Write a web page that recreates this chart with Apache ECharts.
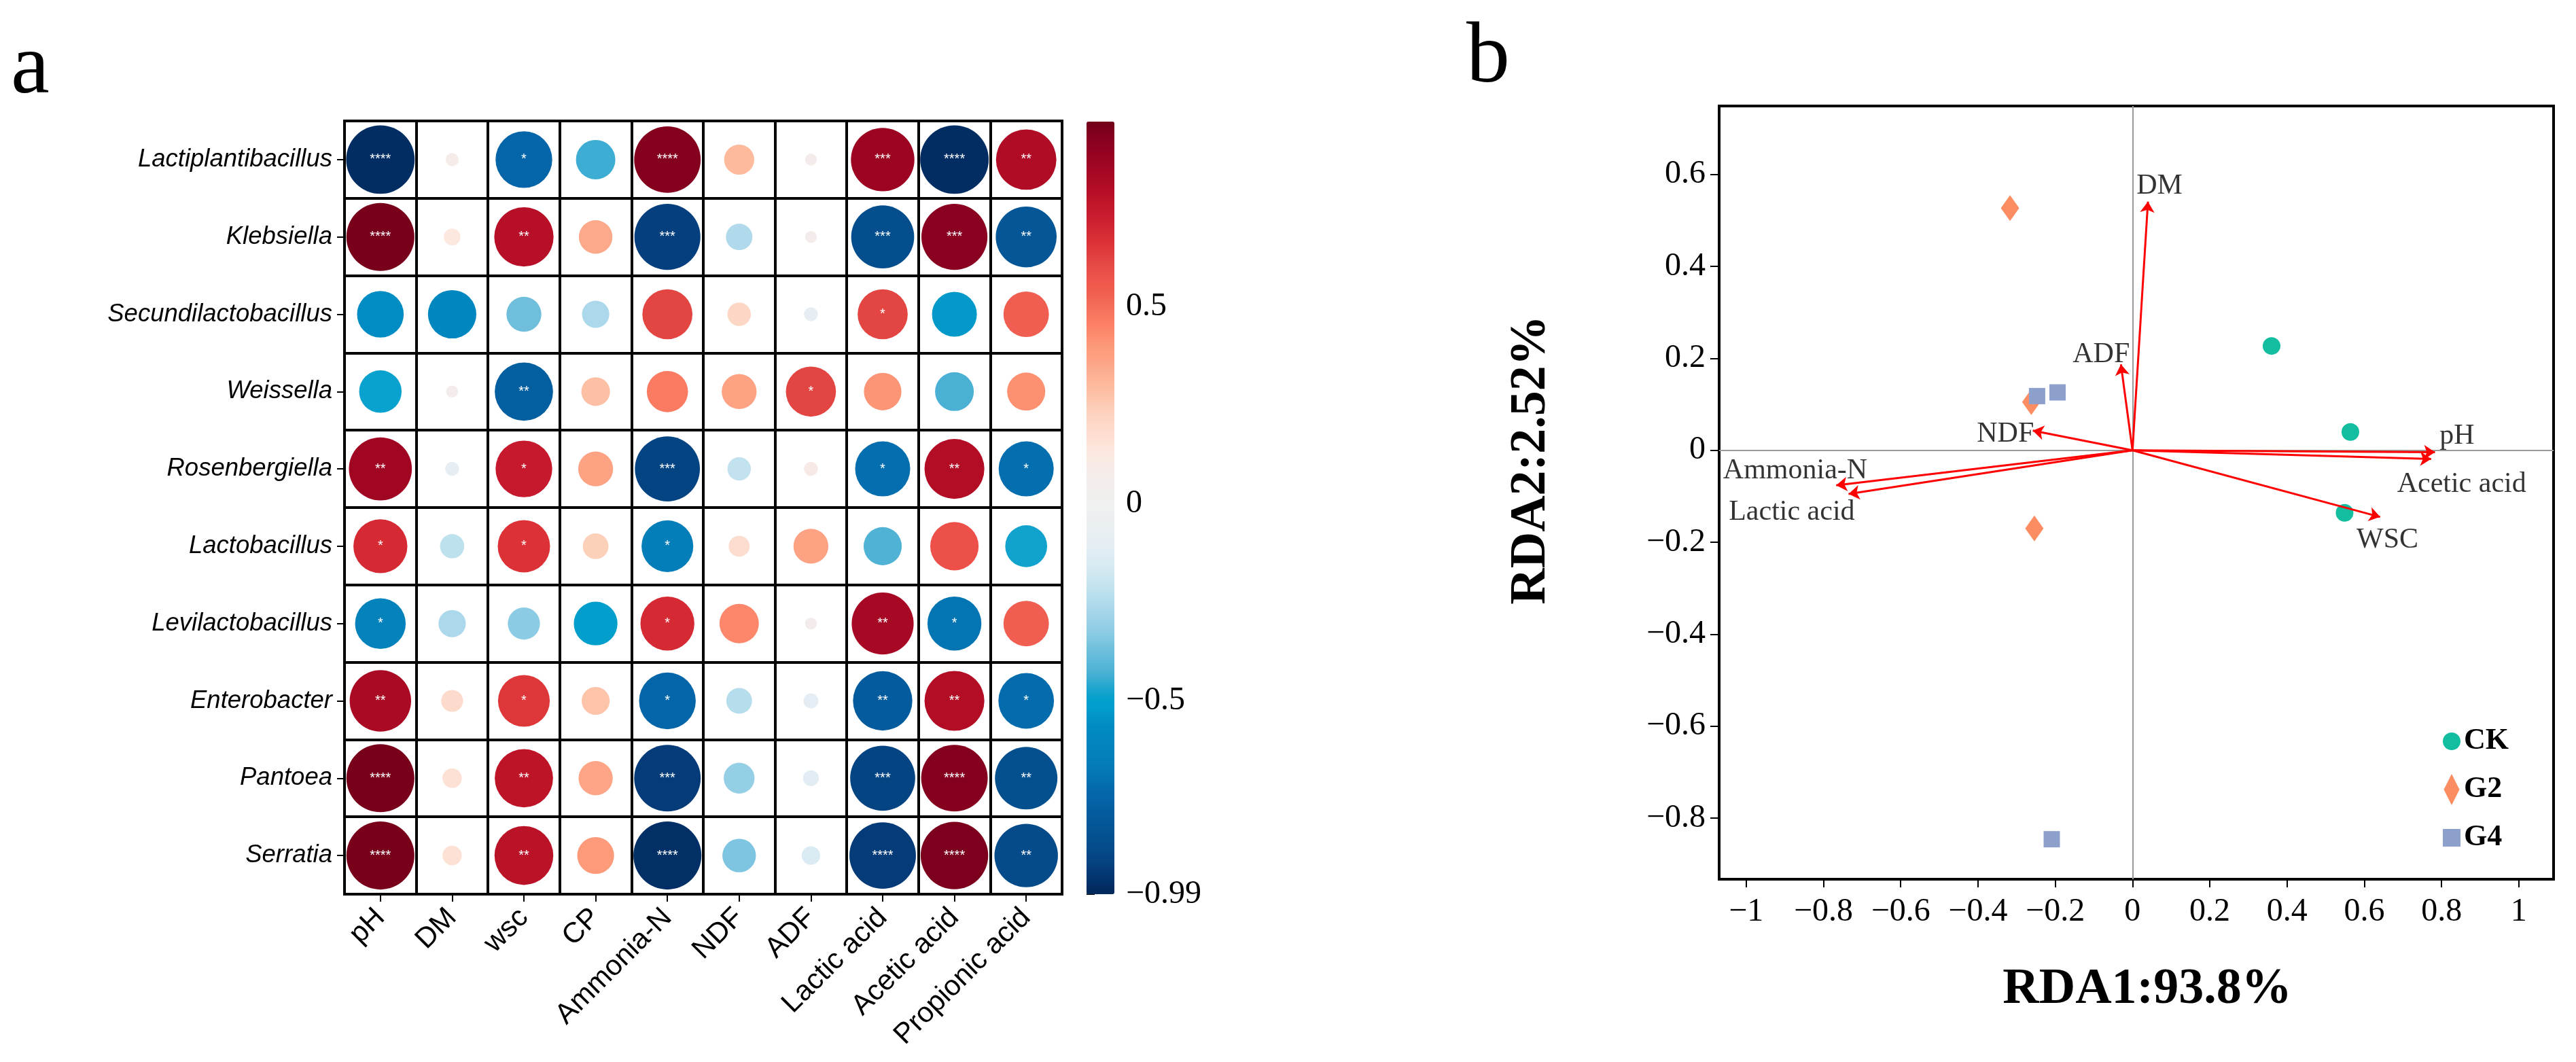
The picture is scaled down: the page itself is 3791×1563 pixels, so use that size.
<!DOCTYPE html>
<html><head><meta charset="utf-8">
<script src="https://cdn.jsdelivr.net/npm/echarts@6/dist/echarts.min.js"></script>
<style>html,body{margin:0;padding:0;background:#fff}#c{width:3791px;height:1563px}</style>
</head><body><div id="c"></div>
<script>
// ---------- Panel a: correlation matrix ----------
const corrRows = ['Lactiplantibacillus','Klebsiella','Secundilactobacillus','Weissella','Rosenbergiella','Lactobacillus','Levilactobacillus','Enterobacter','Pantoea','Serratia'];
const corrCols = ['pH','DM','wsc','CP','Ammonia-N','NDF','ADF','Lactic acid','Acetic acid','Propionic acid'];
const corrValues = [
  [-0.97, 0.09, -0.74, -0.44,  0.93,  0.30,  0.08,  0.87, -0.97,  0.81],
  [ 0.96, 0.13,  0.79,  0.35, -0.92, -0.25,  0.08, -0.86,  0.92, -0.82],
  [-0.56,-0.59, -0.37, -0.26,  0.62,  0.21, -0.10,  0.62, -0.53,  0.54],
  [-0.49, 0.08, -0.77,  0.28,  0.47,  0.37,  0.62,  0.41, -0.43,  0.42],
  [ 0.86,-0.10,  0.74,  0.37, -0.90, -0.21,  0.10, -0.71,  0.80, -0.71],
  [ 0.69,-0.22,  0.66,  0.24, -0.65,  0.18,  0.37, -0.42,  0.59, -0.48],
  [-0.63,-0.26, -0.33, -0.51,  0.69,  0.44,  0.08,  0.84, -0.69,  0.54],
  [ 0.83, 0.19,  0.65,  0.27, -0.74, -0.24, -0.11, -0.79,  0.80, -0.72],
  [ 0.96, 0.16,  0.77,  0.36, -0.93, -0.31, -0.12, -0.90,  0.93, -0.85],
  [ 0.96, 0.16,  0.78,  0.40, -0.96, -0.35, -0.15, -0.93,  0.95, -0.87]
];
const corrSig = [
  ['****','','*','','****','','','***','****','**'],
  ['****','','**','','***','','','***','***','**'],
  ['','','','','','','','*','',''],
  ['','','**','','','','*','','',''],
  ['**','','*','','***','','','*','**','*'],
  ['*','','*','','*','','','','',''],
  ['*','','','','*','','','**','*',''],
  ['**','','*','','*','','','**','**','*'],
  ['****','','**','','***','','','***','****','**'],
  ['****','','**','','****','','','****','****','**']
];
const colorbarMin = -0.99;
const colorbarMax = 0.97;
const colorbarTicks = [-0.99, -0.5, 0, 0.5];

// ---------- Panel b: RDA ----------
const rdaXTicks = [-1, -0.8, -0.6, -0.4, -0.2, 0, 0.2, 0.4, 0.6, 0.8, 1];
const rdaYTicks = [-0.8, -0.6, -0.4, -0.2, 0, 0.2, 0.4, 0.6];
const envNames = ['pH', 'Acetic acid', 'WSC', 'DM', 'ADF', 'NDF', 'Ammonia-N', 'Lactic acid'];
const envX = [0.783, 0.773, 0.641, 0.040, -0.030, -0.258, -0.767, -0.735];
const envY = [-0.004, -0.019, -0.145, 0.541, 0.187, 0.043, -0.076, -0.095];
const envLabelX = [0.840, 0.852, 0.660, 0.070, -0.081, -0.329, -0.873, -0.882];
const envLabelY = [0.031, -0.074, -0.195, 0.574, 0.208, 0.035, -0.044, -0.135];
const groupNames = ['CK', 'G2', 'G4'];
const ckPoints = [[0.360, 0.227], [0.564, 0.040], [0.549, -0.136]];
const g2Points = [[-0.317, 0.527], [-0.262, 0.105], [-0.254, -0.170]];
const g4Points = [[-0.247, 0.118], [-0.194, 0.126], [-0.209, -0.846]];

// ---------- styling helpers ----------
const colorStops = [
  [-0.99,'#01295A'],[-0.96,'#032F67'],[-0.92,'#063F7E'],[-0.85,'#04508F'],[-0.79,'#045B9D'],
  [-0.73,'#0468AA'],[-0.68,'#0478B5'],[-0.63,'#0482BC'],[-0.57,'#0089C1'],[-0.53,'#039ACA'],
  [-0.5,'#01A0CD'],[-0.47,'#19A3CD'],[-0.43,'#4AB1D5'],[-0.37,'#6FBFDC'],[-0.33,'#8BCBE3'],
  [-0.26,'#ABD8EA'],[-0.22,'#BEE1EE'],[-0.15,'#DAEBF3'],[-0.1,'#E6EEF3'],[0,'#F0F0F0'],
  [0.08,'#F3ECEA'],[0.13,'#FDE8DF'],[0.19,'#FDDBCC'],[0.24,'#FDD0BA'],[0.28,'#FDC0A5'],
  [0.30,'#FEBA9C'],[0.35,'#FCA88A'],[0.37,'#FDA283'],[0.40,'#FC9A7A'],[0.43,'#FD8B6D'],
  [0.47,'#FA7A62'],[0.54,'#EF5E50'],[0.59,'#EC5049'],[0.62,'#E34542'],[0.66,'#DC3237'],
  [0.69,'#D52A34'],[0.735,'#C81A2E'],[0.77,'#BE1428'],[0.80,'#B30D26'],[0.83,'#AA0A24'],
  [0.86,'#A00522'],[0.92,'#8A0020'],[0.95,'#7C001D'],[0.97,'#730019']
];
function hex2rgb(h){return [parseInt(h.substr(1,2),16),parseInt(h.substr(3,2),16),parseInt(h.substr(5,2),16)];}
function colorAt(v){
  for(let i=0;i<colorStops.length-1;i++){
    const a=colorStops[i], b=colorStops[i+1];
    if(v<=b[0]){
      const t=(v-a[0])/(b[0]-a[0]);
      const ca=hex2rgb(a[1]), cb=hex2rgb(b[1]);
      const c=ca.map((x,k)=>Math.round(x+(cb[k]-x)*Math.max(0,Math.min(1,t))));
      return 'rgb('+c.join(',')+')';
    }
  }
  return colorStops[colorStops.length-1][1];
}
const rampColors=[];
const NSTEP=196;
for(let i=0;i<=NSTEP;i++){ rampColors.push(colorAt(colorbarMin+(colorbarMax-colorbarMin)*i/NSTEP)); }

function minusFmt(v){
  const n=Number(v);
  if(Math.abs(n)<1e-9) return '0';
  const s=String(Math.round(Math.abs(n)*1000)/1000);
  return (n<0?'\u2212':'')+s;
}

const corrData=[];
corrRows.forEach((rn,ri)=>{ corrCols.forEach((cn,ci)=>{ corrData.push([cn, rn, corrValues[ri][ci]]); }); });

const SERIF='"Liberation Serif", "Times New Roman", serif';
const SANS='"Liberation Sans", Arial, sans-serif';

const chart = echarts.init(document.getElementById('c'), null, {renderer:'canvas'});
const option = {
  animation:false,
  backgroundColor:'#ffffff',
  grid:[
    {left:507, top:178, width:1056, height:1138, show:true, borderColor:'#000', borderWidth:4, backgroundColor:'#fff'},
    {left:2530, top:156, width:1228, height:1138, show:true, borderColor:'#000', borderWidth:4, backgroundColor:'#fff'},
    {left:1599, top:179, width:41, height:1137, show:false}
  ],
  xAxis:[
    {gridIndex:0, type:'category', data:corrCols, position:'bottom',
     axisLine:{show:true, lineStyle:{color:'#000', width:4}},
     axisTick:{show:true, alignWithLabel:true, length:11, lineStyle:{color:'#000', width:2}},
     axisLabel:{interval:0, rotate:45, fontFamily:SANS, fontSize:42, color:'#000', margin:28},
     splitLine:{show:true, interval:0, lineStyle:{color:'#000', width:4}}},
    {gridIndex:1, type:'value', min:-1.07, max:1.09,
     axisLine:{show:true, onZero:false, lineStyle:{color:'#000', width:4}},
     axisTick:{show:true, length:12, customValues:rdaXTicks, lineStyle:{color:'#000', width:2}},
     axisLabel:{customValues:rdaXTicks, formatter:minusFmt, fontFamily:SERIF, fontSize:48, color:'#000', margin:24},
     splitLine:{show:false}},
    {gridIndex:2, type:'value', show:false, min:0, max:1}
  ],
  yAxis:[
    {gridIndex:0, type:'category', data:corrRows, inverse:true,
     axisLine:{show:true, lineStyle:{color:'#000', width:4}},
     axisTick:{show:true, alignWithLabel:true, length:11, lineStyle:{color:'#000', width:2}},
     axisLabel:{interval:0, fontFamily:SANS, fontStyle:'italic', fontSize:36.5, color:'#000', margin:18},
     splitLine:{show:true, interval:0, lineStyle:{color:'#000', width:4}}},
    {gridIndex:1, type:'value', min:-0.933, max:0.749,
     axisLine:{show:true, onZero:false, lineStyle:{color:'#000', width:4}},
     axisTick:{show:true, length:13, customValues:rdaYTicks, lineStyle:{color:'#000', width:2}},
     axisLabel:{customValues:rdaYTicks, formatter:minusFmt, fontFamily:SERIF, fontSize:48, color:'#000', margin:20},
     splitLine:{show:false}},
    {gridIndex:2, type:'value', min:colorbarMin, max:colorbarMax, position:'right',
     axisLine:{show:false},
     axisTick:{show:true, length:12, customValues:colorbarTicks, lineStyle:{color:'#000', width:2}},
     axisLabel:{customValues:colorbarTicks, formatter:minusFmt, fontFamily:SERIF, fontSize:48, color:'#000', margin:17},
     splitLine:{show:false}}
  ],
  visualMap:[{
    type:'continuous', seriesIndex:0, dimension:2, min:colorbarMin, max:colorbarMax,
    calculable:false, hoverLink:false, show:true, left:1599, top:179, itemWidth:41, itemHeight:1137,
    padding:0, text:null, inRange:{color:rampColors, opacity:1}
  }],
  legend:{
    orient:'vertical', left:3590, top:1063, itemWidth:26, itemHeight:46, itemGap:25,
    symbolKeepAspect:true, selectedMode:false,
    textStyle:{fontFamily:SERIF, fontWeight:'bold', fontSize:44, color:'#000', lineHeight:46},
    data:[{name:'CK', icon:'circle'},{name:'G2', icon:'path://M5,0L10,10L5,20L0,10Z'},{name:'G4', icon:'path://M0,0L10,0L10,10L0,10Z'}]
  },
  graphic:[
    {type:'text', left:16, top:38, style:{text:'a', font:'128px '+SERIF, fill:'#000'}},
    {type:'text', left:2158, top:22, style:{text:'b', font:'128px '+SERIF, fill:'#000'}},
    {type:'text', x:3160, y:1457, style:{text:'RDA1:93.8%', font:'bold 74px '+SERIF, fill:'#000', align:'center', verticalAlign:'middle'}},
    {type:'text', x:2254, y:677, rotation:Math.PI/2, style:{text:'RDA2:2.52%', font:'bold 74px '+SERIF, fill:'#000', align:'center', verticalAlign:'middle'}}
  ],
  series:[
    {type:'scatter', xAxisIndex:0, yAxisIndex:0, data:corrData, symbol:'circle',
     symbolSize:(v)=>103*Math.pow(Math.abs(v[2]),0.7),
     itemStyle:{opacity:1},
     label:{show:true, position:'inside', color:'#fff', fontFamily:SANS, fontSize:20,
       formatter:(p)=>{const ri=Math.floor(p.dataIndex/corrCols.length), ci=p.dataIndex%corrCols.length; return corrSig[ri][ci];}},
     emphasis:{disabled:true}, z:3},
    {type:'lines', coordinateSystem:'cartesian2d', xAxisIndex:1, yAxisIndex:1, z:4,
     symbol:['none','arrow'], symbolSize:16,
     lineStyle:{color:'#FF0000', width:3, opacity:1},
     data: envNames.map((n,i)=>({name:n, coords:[[0,0],[envX[i],envY[i]]]})),
     emphasis:{disabled:true}},
    {type:'scatter', xAxisIndex:1, yAxisIndex:1, symbolSize:0, z:5,
     data: envNames.map((n,i)=>({name:n, value:[envLabelX[i], envLabelY[i]]})),
     label:{show:true, position:'inside', formatter:'{b}', fontFamily:SERIF, fontSize:42, color:'#000'},
     emphasis:{disabled:true}},
    {name:groupNames[0], type:'scatter', xAxisIndex:1, yAxisIndex:1, symbol:'circle', symbolSize:26, z:3,
     itemStyle:{color:'#12BE9F', opacity:1}, data:ckPoints, emphasis:{disabled:true},
     markLine:{silent:true, symbol:['none','none'], label:{show:false}, z:1,
       lineStyle:{color:'#9A9A9A', width:2, type:'solid'}, data:[{xAxis:0},{yAxis:0}]}},
    {name:groupNames[1], type:'scatter', xAxisIndex:1, yAxisIndex:1, symbol:'diamond', symbolSize:[27,38], z:3,
     itemStyle:{color:'#FC8D62', opacity:1}, data:g2Points, emphasis:{disabled:true}},
    {name:groupNames[2], type:'scatter', xAxisIndex:1, yAxisIndex:1, symbol:'rect', symbolSize:24, z:3,
     itemStyle:{color:'#8DA0CB', opacity:1}, data:g4Points, emphasis:{disabled:true}}
  ]
};
chart.setOption(option);
</script>
</body></html>
